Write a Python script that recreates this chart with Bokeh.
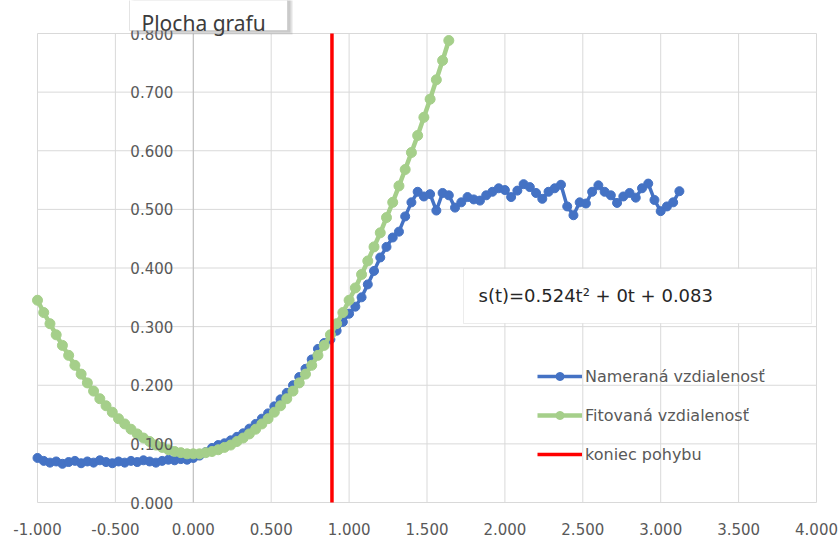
from bokeh.plotting import figure
from bokeh.models import Legend, LegendItem, Label, BoxAnnotation, Range1d
from bokeh.core.properties import value
from bokeh.embed import file_html
from bokeh.resources import INLINE

# ---------------- data ----------------
times = [
    -1.00, -0.96, -0.92, -0.88, -0.84, -0.80, -0.76, -0.72, -0.68, -0.64,
    -0.60, -0.56, -0.52, -0.48, -0.44, -0.40, -0.36, -0.32, -0.28, -0.24,
    -0.20, -0.16, -0.12, -0.08, -0.04,
    0.00, 0.04, 0.08, 0.12, 0.16, 0.20, 0.24, 0.28, 0.32, 0.36,
    0.40, 0.44, 0.48, 0.52, 0.56, 0.60, 0.64, 0.68, 0.72, 0.76,
    0.80, 0.84, 0.88, 0.92, 0.96,
    1.00, 1.04, 1.08, 1.12, 1.16, 1.20, 1.24, 1.28, 1.32, 1.36,
    1.40, 1.44, 1.48, 1.52, 1.56, 1.60, 1.64, 1.68, 1.72, 1.76,
    1.80, 1.84, 1.88, 1.92, 1.96,
    2.00, 2.04, 2.08, 2.12, 2.16, 2.20, 2.24, 2.28, 2.32, 2.36,
    2.40, 2.44, 2.48, 2.52, 2.56, 2.60, 2.64, 2.68, 2.72, 2.76,
    2.80, 2.84, 2.88, 2.92, 2.96,
    3.00, 3.04, 3.08, 3.12,
]

measured = [
    0.076, 0.071, 0.068, 0.070, 0.066, 0.069, 0.071, 0.067, 0.070, 0.068,
    0.072, 0.069, 0.067, 0.070, 0.068, 0.071, 0.069, 0.072, 0.070, 0.068,
    0.071, 0.073, 0.072, 0.074, 0.073,
    0.076, 0.080, 0.086, 0.093, 0.098, 0.101, 0.106, 0.112, 0.118, 0.126,
    0.134, 0.143, 0.152, 0.164, 0.176, 0.187, 0.200, 0.214, 0.228, 0.244,
    0.262, 0.272, 0.278, 0.293, 0.308,
    0.322, 0.334, 0.350, 0.372, 0.395, 0.418, 0.436, 0.452, 0.462, 0.488,
    0.512, 0.530, 0.522, 0.526, 0.498, 0.528, 0.524, 0.503, 0.512, 0.521,
    0.517, 0.515, 0.524, 0.530, 0.536,
    0.533, 0.521, 0.532, 0.543, 0.538, 0.528, 0.518, 0.530, 0.536, 0.542,
    0.505, 0.490, 0.512, 0.510, 0.530, 0.541, 0.530, 0.524, 0.511, 0.522,
    0.528, 0.520, 0.536, 0.544, 0.516,
    0.497, 0.505, 0.512, 0.531,
]

fitted = [
    0.345, 0.324, 0.305, 0.286, 0.268, 0.251, 0.234, 0.219, 0.204, 0.190,
    0.177, 0.165, 0.154, 0.143, 0.134, 0.125, 0.117, 0.110, 0.104, 0.098,
    0.094, 0.090, 0.087, 0.085, 0.083,
    0.083, 0.083, 0.085, 0.087, 0.090, 0.094, 0.098, 0.104, 0.110, 0.117,
    0.125, 0.134, 0.143, 0.154, 0.165, 0.177, 0.190, 0.204, 0.219, 0.234,
    0.251, 0.268, 0.286, 0.305, 0.324,
    0.345, 0.366, 0.389, 0.412, 0.436, 0.460, 0.486, 0.512, 0.540, 0.568,
    0.597, 0.626, 0.657, 0.688, 0.721, 0.754, 0.788,
]
fit_times = times[:len(fitted)]

end_of_motion = 0.89

x_ticks = [-1.0, -0.5, 0.0, 0.5, 1.0, 1.5, 2.0, 2.5, 3.0, 3.5, 4.0]
x_tick_labels = ["-1.000", "-0.500", "0.000", "0.500", "1.000", "1.500",
                 "2.000", "2.500", "3.000", "3.500", "4.000"]
y_ticks = [0.0, 0.1, 0.2, 0.3, 0.4, 0.5, 0.6, 0.7, 0.8]
y_tick_labels = ["0.000", "0.100", "0.200", "0.300", "0.400",
                 "0.500", "0.600", "0.700", "0.800"]

series_names = ["Nameraná vzdialenosť", "Fitovaná vzdialenosť", "koniec pohybu"]
equation_text = "s(t)=0.524t² + 0t + 0.083"
tooltip_text = "Plocha grafu"

X_MIN, X_MAX = -1.0, 4.0
Y_MIN, Y_MAX = 0.0, 0.8

BLUE = "#4472C4"
GREEN = "#A5CF8A"
RED = "#FF0000"
GRID = "#D9D9D9"
LABEL = "#595959"
FONT = "DejaVu Sans"

# ---------------- layout ----------------
W, H = 840, 538
PLOT_L, PLOT_R, PLOT_T, PLOT_B = 37, 24, 33, 36      # margins of the plot area, px
x_scale = (W - PLOT_L - PLOT_R) / (X_MAX - X_MIN)     # px per unit
y_scale = (H - PLOT_T - PLOT_B) / (Y_MAX - Y_MIN)
x_range = Range1d(X_MIN - PLOT_L / x_scale, X_MAX + PLOT_R / x_scale)
y_range = Range1d(Y_MIN - PLOT_B / y_scale, Y_MAX + PLOT_T / y_scale)


def px_x(px):
    """canvas pixel column -> data x (for placing annotations)"""
    return x_range.start + px / x_scale


def px_y(py):
    """canvas pixel row (from top) -> data y (for placing annotations)"""
    return y_range.end - py / y_scale


p = figure(width=W, height=H, x_range=x_range, y_range=y_range,
           output_backend="svg", toolbar_location=None,
           x_axis_location=None, y_axis_location=None,
           min_border_left=0, min_border_right=0, min_border_top=0, min_border_bottom=0)
p.background_fill_color = "white"
p.border_fill_color = "white"
p.outline_line_color = None
p.grid.visible = False

# gridlines of the plot area
p.segment(x0=x_ticks, y0=[Y_MIN] * len(x_ticks), x1=x_ticks, y1=[Y_MAX] * len(x_ticks),
          line_color=GRID, line_width=1)
p.segment(x0=[X_MIN] * len(y_ticks), y0=y_ticks, x1=[X_MAX] * len(y_ticks), y1=y_ticks,
          line_color=GRID, line_width=1)
# value axis crossing at t = 0
p.segment(x0=[0.0], y0=[Y_MIN], x1=[0.0], y1=[Y_MAX], line_color="#BFBFBF", line_width=1)

# series
bl = p.line(times, measured, line_color=BLUE, line_width=3.5)
bs = p.scatter(times, measured, size=9, fill_color=BLUE, line_color=BLUE)
gl = p.line(fit_times, fitted, line_color=GREEN, line_width=4.5)
gs = p.scatter(fit_times, fitted, size=10, fill_color=GREEN, line_color=GREEN)
rl = p.segment(x0=[end_of_motion], y0=[Y_MIN], x1=[end_of_motion], y1=[Y_MAX],
               line_color=RED, line_width=3.5)

# axis tick labels
p.text(x=x_ticks, y=[Y_MIN] * len(x_ticks), text=x_tick_labels, y_offset=26,
       text_align="center", text_baseline="middle",
       text_font=value(FONT), text_font_size=value("15px"), text_color=LABEL)
p.text(x=[0.0] * len(y_ticks), y=y_ticks, text=y_tick_labels, x_offset=-20,
       text_align="right", text_baseline="middle",
       text_font=value(FONT), text_font_size=value("15px"), text_color=LABEL)

# equation box
p.add_layout(BoxAnnotation(left=px_x(463), right=px_x(811), top=px_y(268), bottom=px_y(323),
                           fill_color="white", fill_alpha=1.0,
                           line_color="#BFBFBF", line_width=1))
p.add_layout(Label(x=px_x(478), y=px_y(295), text=equation_text, text_baseline="middle",
                   text_font=FONT, text_font_size="18px", text_color="#262626"))

legend = Legend(items=[
    LegendItem(label=series_names[0], renderers=[bl, bs]),
    LegendItem(label=series_names[1], renderers=[gl, gs]),
    LegendItem(label=series_names[2], renderers=[rl]),
], location=(537, 74))
legend.padding = 0
legend.margin = 0
legend.border_line_color = None
legend.background_fill_alpha = 0
legend.glyph_width = 45
legend.glyph_height = 20
legend.label_height = 20
legend.spacing = 19
legend.label_standoff = 3
legend.label_text_font = FONT
legend.label_text_font_size = "16px"
legend.label_text_color = LABEL
p.add_layout(legend)

# "Plocha grafu" hover box: soft shadow, box, text
p.add_layout(BoxAnnotation(left=px_x(133), right=px_x(292), top=px_y(-5), bottom=px_y(34),
                           fill_color="#7F7F7F", fill_alpha=0.22, line_color=None))
p.add_layout(BoxAnnotation(left=px_x(131), right=px_x(290), top=px_y(-5), bottom=px_y(32),
                           fill_color="#7F7F7F", fill_alpha=0.25, line_color=None))
p.add_layout(BoxAnnotation(left=px_x(129), right=px_x(287), top=px_y(-5), bottom=px_y(30),
                           fill_color="white", fill_alpha=1.0,
                           line_color="#A6A6A6", line_width=1))
p.add_layout(Label(x=px_x(141), y=px_y(22.5), text=tooltip_text, text_baseline="alphabetic",
                   text_font="Noto Sans", text_font_size="21px", text_color="#3C3C3C"))

open("out.html", "w").write(file_html(p, INLINE))
